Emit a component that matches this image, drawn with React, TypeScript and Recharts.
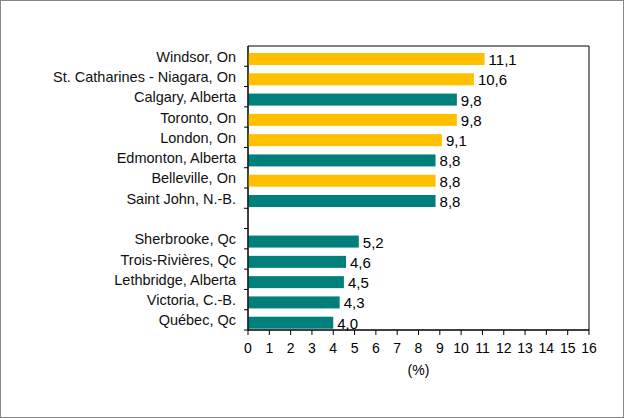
import { BarChart, Bar, XAxis, YAxis, Cell, LabelList, ReferenceArea } from 'recharts'

const cities = [
  'Windsor, On',
  'St. Catharines - Niagara, On',
  'Calgary, Alberta',
  'Toronto, On',
  'London, On',
  'Edmonton, Alberta',
  'Belleville, On',
  'Saint John, N.-B.',
  '',
  'Sherbrooke, Qc',
  'Trois-Rivières, Qc',
  'Lethbridge, Alberta',
  'Victoria, C.-B.',
  'Québec, Qc',
]

const rates: (number | null)[] = [11.1, 10.6, 9.8, 9.8, 9.1, 8.8, 8.8, 8.8, null, 5.2, 4.6, 4.5, 4.3, 4.0]

const xTicks = [0, 1, 2, 3, 4, 5, 6, 7, 8, 9, 10, 11, 12, 13, 14, 15, 16]

const YELLOW = '#FFC000'
const TEAL = '#007F7B'
const FONT = '"Liberation Sans", Arial, sans-serif'

const data = cities.map((name, i) => ({ name, rate: rates[i] }))

// Ontario cities are drawn in yellow
const barColor = (name: string) => (name.endsWith(', On') ? YELLOW : TEAL)

function CityTick(props: any) {
  const { x, y, payload, height, visibleTicksCount } = props
  const band = height && visibleTicksCount ? height / visibleTicksCount : 284 / 14
  const edge = y + band / 2
  return (
    <g>
      <line x1={x - 4} y1={edge} x2={x} y2={edge} stroke="#000" strokeWidth={1} />
      {payload.value && (
        <text x={x - 12} y={y + 0.5} textAnchor="end" dominantBaseline="central" fontSize={14.5} fontFamily={FONT} fill="#111">
          {payload.value}
        </text>
      )}
    </g>
  )
}

function ShiftedBar(props: any) {
  const { x, y, width, height, fill } = props
  if (!width) return null
  return <rect x={x} y={y + 3} width={width} height={height} fill={fill} />
}

function ValueLabel(props: any) {
  const { x, y, width, height, value } = props
  if (value === null || value === undefined) return null
  return (
    <text
      x={x + width + 4}
      y={y + height / 2 + 3.5}
      dominantBaseline="central"
      fontSize={15}
      fontFamily={FONT}
      fill="#000"
    >
      {Number(value).toFixed(1).replace('.', ',')}
    </text>
  )
}

export default function App() {
  return (
    <div style={{ position: 'absolute', left: 0, top: 0, width: 624, height: 418 }}>
      <BarChart
        width={624}
        height={418}
        data={data}
        layout="vertical"
        margin={{ top: 46, right: 35, left: 0, bottom: 0 }}
        barSize={12}
      >
        <XAxis
          type="number"
          domain={[0, 16]}
          ticks={xTicks}
          interval={0}
          tickSize={5}
          tickMargin={8}
          height={88}
          axisLine={{ stroke: '#000' }}
          tickLine={{ stroke: '#000' }}
          tick={{ fontSize: 14, fontFamily: FONT, fill: '#000' }}
          label={{ value: '(%)', position: 'insideTop', offset: 35, fontSize: 14, fontFamily: FONT, fill: '#000' }}
        />
        <YAxis
          type="category"
          dataKey="name"
          width={248}
          interval={0}
          tickSize={0}
          tickMargin={0}
          tickLine={false}
          axisLine={{ stroke: '#000' }}
          tick={<CityTick />}
        />
        <ReferenceArea x1={0} x2={16} stroke="#000" strokeWidth={1} fill="none" fillOpacity={0} />
        <Bar dataKey="rate" isAnimationActive={false} shape={<ShiftedBar />}>
          {data.map((d, i) => (
            <Cell key={`c-${i}`} fill={barColor(d.name)} />
          ))}
          <LabelList dataKey="rate" content={<ValueLabel />} />
        </Bar>
      </BarChart>
      <div
        style={{
          position: 'absolute',
          left: 0,
          top: 0,
          width: 624,
          height: 418,
          boxSizing: 'border-box',
          border: '1px solid #888',
          pointerEvents: 'none',
        }}
      />
    </div>
  )
}
